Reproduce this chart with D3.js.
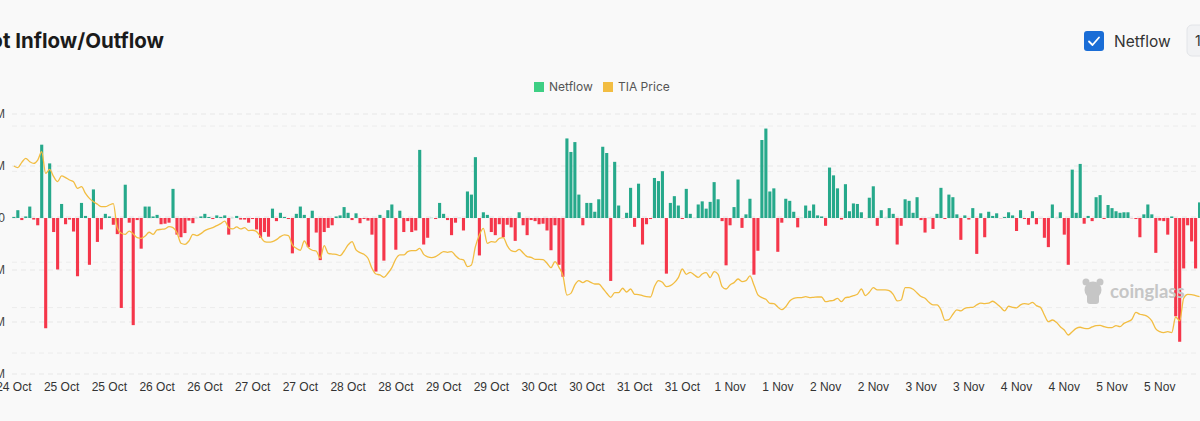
<!DOCTYPE html>
<html>
<head>
<meta charset="utf-8">
<script src="https://cdn.jsdelivr.net/npm/d3@7"></script>
<style>
  html, body { margin: 0; padding: 0; background: #f9f9f9; overflow: hidden; }
  svg { display: block; font-family: Inter, "Noto Sans", sans-serif; }
</style>
</head>
<body>
<svg width="1200" height="421"></svg>
<script>
// hourly samples, first one at 24 Oct 12:00
const startTime = new Date(2024, 9, 24, 12);

// netflow per hour, in millions
const netflow = [
  0.02, 0.15, -0.04, 0.03, 0.22, -0.03, -0.14, 1.41, -2.12, 1.05, -0.27, -0.99, 0.27, -0.12, -0.03, -0.26, -1.12, 0.29, 0.04, -0.9,
  0.55, -0.46, -0.22, 0.08, 0.03, -0.13, -0.31, -1.73, 0.64, -0.09, -2.06, -0.04, -0.59, 0.22, 0.22,
  0.03, 0.06, -0.12, -0.11, -0.09, 0.56, -0.32, -0.37, -0.29, -0.05, -0.10, 0.01, 0.03, 0.08, 0.02, -0.02, 0.05, 0.02, 0.05, -0.32,
  0.01, 0.04, -0.03, -0.03, -0.09, -0.02, -0.22, -0.38, -0.27, -0.36, 0.18, -0.06, 0.10, 0.02, -0.02, -0.68, 0.08, 0.22,
  0.06, -0.56, 0.14, -0.28, -0.81, -0.27, -0.19, -0.14, 0.03, 0.05, 0.21, 0.10, -0.04, 0.09, -0.10, -0.02, -0.05, -0.32, -1.03, 0.06,
  -0.82, 0.15, 0.26, -0.61, 0.14, -0.27, -0.06, -0.27, -0.24, 1.31, -0.51, -0.38, 0.01, -0.02, 0.29, 0.08, -0.04, -0.33,
  -0.09, 0.01, -0.24, 0.51, 0.45, 1.17, -0.72, 0.11, 0.06, -0.27, -0.33, -0.12, -0.37, -0.13, -0.18, -0.44, 0.11, -0.14, -0.33, -0.04,
  -0.06, -0.12, -0.11, -0.24, -0.62, -0.14, -0.90, -1.13, 1.53, 1.27, 1.46, 0.45, -0.14, 0.29, 0.29, 0.12, 0.36,
  1.37, 1.25, -1.21, 1.08, 0.24, -0.01, 0.10, 0.58, -0.17, 0.66, -0.51, -0.12, -0.02, 0.77, 0.71, 0.90, -1.07, 0.29, 0.42, 0.24,
  -0.02, 0.56, 0.08, 0.01, 0.26, 0.32, 0.18, 0.31, 0.69, 0.36, -0.06, -0.91, -0.14, 0.21, 0.74, -0.19, 0.07, 0.37,
  -1.09, -0.63, 1.50, 1.72, 0.51, 0.57, -0.65, -0.09, 0.37, 0.33, 0.12, -0.18, 0.01, 0.24, 0.14, 0.26, 0.05, 0.03, -0.15, 0.97,
  0.82, 0.57, -0.03, 0.65, 0.13, 0.28, 0.27, 0.11, -0.01, 0.39, 0.61, -0.15, 0.15, 0.01, 0.19, 0.08, -0.51, -0.15,
  0.36, 0.33, 0.10, 0.40, -0.04, -0.28, 0.01, -0.21, 0.08, 0.58, -0.02, 0.45, 0.40, 0.07, -0.42, 0.05, -0.03, 0.19, -0.69, 0.09,
  -0.37, 0.12, 0.04, 0.09, -0.01, 0.02, 0.11, 0.05, -0.25, 0.15, -0.02, -0.13, 0.13, -0.12, -0.01, -0.38, -0.56, 0.26,
  0.01, 0.11, -0.32, -0.90, 0.93, 0.10, 1.04, -0.11, 0.04, -0.06, 0.40, 0.44, -0.02, 0.25, 0.19, 0.13, 0.10, 0.11, 0.11, -0.01,
  -0.02, -0.37, 0.07, 0.26, 0.07, -0.67, -0.05, -0.06, -0.32, 0.03, -1.89, -2.38, -0.97, -0.14, -0.45, -0.97, 0.30
];

// TIA price per hour, USD
const price = [
  5.336, 5.325, 5.360, 5.386, 5.364, 5.353, 5.375, 5.430, 5.287, 5.314, 5.265, 5.232, 5.270, 5.259, 5.243, 5.232, 5.188, 5.199, 5.155, 5.122,
  5.100, 5.083, 5.067, 5.067, 5.078, 5.087, 4.924, 4.891, 4.884, 4.906, 4.887, 4.862, 4.858, 4.873, 4.898,
  4.884, 4.913, 4.917, 4.920, 4.935, 4.928, 4.895, 4.825, 4.818, 4.840, 4.884, 4.876, 4.889, 4.909, 4.920, 4.928, 4.942, 4.955, 4.972, 4.928,
  4.920, 4.933, 4.920, 4.928, 4.909, 4.911, 4.902, 4.869, 4.836, 4.832, 4.836, 4.849, 4.869, 4.880, 4.876, 4.814, 4.792, 4.779,
  4.840, 4.796, 4.779, 4.774, 4.726, 4.809, 4.759, 4.754, 4.752, 4.743, 4.774, 4.814, 4.836, 4.781, 4.763, 4.752, 4.726, 4.660, 4.622, 4.616,
  4.600, 4.627, 4.664, 4.721, 4.748, 4.748, 4.770, 4.776, 4.776, 4.792, 4.752, 4.735, 4.730, 4.737, 4.754, 4.770, 4.765, 4.770,
  4.743, 4.721, 4.715, 4.671, 4.682, 4.803, 4.880, 4.924, 4.825, 4.836, 4.832, 4.858, 4.862, 4.809, 4.776, 4.770, 4.785, 4.761, 4.737, 4.732,
  4.719, 4.719, 4.717, 4.693, 4.664, 4.704, 4.666, 4.611, 4.483, 4.494, 4.550, 4.578, 4.565, 4.578, 4.567, 4.556, 4.556,
  4.528, 4.495, 4.468, 4.499, 4.499, 4.528, 4.503, 4.523, 4.488, 4.486, 4.479, 4.473, 4.470, 4.539, 4.578, 4.567, 4.539, 4.545, 4.565, 4.598,
  4.655, 4.620, 4.633, 4.616, 4.600, 4.622, 4.631, 4.598, 4.638, 4.620, 4.539, 4.523, 4.550, 4.565, 4.589, 4.572, 4.578, 4.609,
  4.550, 4.484, 4.466, 4.455, 4.428, 4.426, 4.404, 4.387, 4.406, 4.444, 4.461, 4.466, 4.466, 4.472, 4.466, 4.468, 4.470, 4.470, 4.439, 4.444,
  4.448, 4.461, 4.439, 4.466, 4.470, 4.479, 4.488, 4.523, 4.479, 4.501, 4.532, 4.517, 4.517, 4.517, 4.512, 4.488, 4.444, 4.450,
  4.532, 4.532, 4.521, 4.497, 4.473, 4.462, 4.435, 4.418, 4.418, 4.385, 4.316, 4.321, 4.356, 4.385, 4.378, 4.395, 4.400, 4.402, 4.418, 4.429,
  4.426, 4.429, 4.442, 4.426, 4.402, 4.378, 4.409, 4.402, 4.398, 4.418, 4.426, 4.422, 4.435, 4.413, 4.402, 4.351, 4.307, 4.318,
  4.303, 4.274, 4.252, 4.219, 4.241, 4.263, 4.270, 4.263, 4.261, 4.272, 4.281, 4.283, 4.274, 4.268, 4.268, 4.281, 4.274, 4.296, 4.307, 4.323,
  4.369, 4.356, 4.351, 4.340, 4.312, 4.259, 4.241, 4.235, 4.241, 4.235, 4.338, 4.312, 4.462, 4.488, 4.486, 4.479, 4.473
];

const netflowTicks = [2, 1, 0, -1, -2, -3];
const priceTicks = [5.6, 5.3, 5.0, 4.7, 4.4, 4.1];

const GREEN = '#26a98b';
const RED = '#f5364a';
const GOLD = '#f2bd42';

const svg = d3.select('svg');
const hours = netflow.map((d, i) => d3.timeHour.offset(startTime, i));

const xScale = d3.scaleBand()
    .domain(d3.range(hours.length))
    .range([12.3, 12.3 + 3.976 * hours.length])
    .paddingInner(0.22);
const xMid = i => xScale(i) + xScale.bandwidth() / 2;

const yFlow = d3.scaleLinear().domain([-3, 2]).range([374, 114]);
const yPrice = d3.scaleLinear().domain([4.1, 5.6]).range([353, 126]);

// split lines of both axes
svg.append('g').selectAll('line').data(netflowTicks).join('line')
    .attr('x1', 12).attr('x2', 1200)
    .attr('y1', d => yFlow(d)).attr('y2', d => yFlow(d))
    .attr('stroke', '#e7e7e7').attr('stroke-dasharray', '5,4');
svg.append('g').selectAll('line').data(priceTicks).join('line')
    .attr('x1', 12).attr('x2', 1200)
    .attr('y1', d => yPrice(d)).attr('y2', d => yPrice(d))
    .attr('stroke', '#ececec').attr('stroke-dasharray', '5,4');

// left axis labels, mostly cut off by the crop like in the screenshot
const yAxis = d3.axisLeft(yFlow).tickValues(netflowTicks).tickSize(0).tickPadding(0)
    .tickFormat(d => d === 0 ? '0' : `${d}M`);
svg.append('g').attr('transform', 'translate(5,0)').call(yAxis)
    .call(g => g.select('.domain').remove())
    .call(g => g.selectAll('text').attr('fill', '#444').attr('font-size', 12));

// x axis
const xAxis = d3.axisBottom(xScale)
    .tickValues(d3.range(0, hours.length, 12))
    .tickSize(0).tickPadding(8)
    .tickFormat(i => d3.timeFormat('%-d %b')(hours[i]));
svg.append('g').attr('transform', 'translate(0,374)').call(xAxis)
    .call(g => g.select('.domain').remove())
    .call(g => g.selectAll('text').attr('fill', '#333').attr('font-size', 12));

// bars
svg.append('g').selectAll('rect').data(netflow).join('rect')
    .attr('x', (d, i) => xScale(i))
    .attr('width', xScale.bandwidth())
    .attr('y', d => yFlow(Math.max(0, d)))
    .attr('height', d => Math.max(0.8, Math.abs(yFlow(d) - yFlow(0))))
    .attr('fill', d => d >= 0 ? GREEN : RED)
    .attr('fill-opacity', d => Math.abs(d) < 0.015 ? 0.25 : 1);

// price line
const line = d3.line()
    .x((d, i) => xMid(i))
    .y(d => yPrice(d))
    .curve(d3.curveMonotoneX);
svg.append('path')
    .attr('d', line(price))
    .attr('fill', 'none')
    .attr('stroke', GOLD)
    .attr('stroke-width', 1.3);

// watermark
const wm = svg.append('g').attr('fill', '#c6c6c6');
wm.append('circle').attr('cx', 1093).attr('cy', 290).attr('r', 8.5);
wm.append('circle').attr('cx', 1086).attr('cy', 282).attr('r', 3.5);
wm.append('circle').attr('cx', 1100).attr('cy', 282).attr('r', 3.5);
wm.append('rect').attr('x', 1087).attr('y', 293).attr('width', 12).attr('height', 11).attr('rx', 3);
wm.append('text').attr('x', 1110).attr('y', 298)
    .attr('font-size', 18.5).attr('font-weight', 700)
    .attr('font-family', 'Lato, Inter, sans-serif')
    .text('coinglass');

// title
svg.append('text')
    .attr('x', 164).attr('y', 48)
    .attr('text-anchor', 'end')
    .attr('font-size', 20.5).attr('font-weight', 700)
    .attr('fill', '#1b1b1b')
    .text('TIA Spot Inflow/Outflow');

// legend
const legendItems = [{ label: 'Netflow', color: '#3ecf84', x: 534 }, { label: 'TIA Price', color: GOLD, x: 603 }];
const legend = svg.append('g').selectAll('g').data(legendItems).join('g')
    .attr('transform', d => `translate(${d.x},82)`);
legend.append('rect').attr('width', 10).attr('height', 10).attr('fill', d => d.color);
legend.append('text').attr('x', 15).attr('y', 9)
    .attr('font-size', 12).attr('fill', '#555')
    .text(d => d.label);

// checkbox and interval button
svg.append('rect').attr('x', 1084).attr('y', 31).attr('width', 20).attr('height', 20).attr('rx', 3)
    .attr('fill', '#1a6dd6');
svg.append('path').attr('d', 'M1089 41.5 L1092.5 45 L1099 37.5')
    .attr('fill', 'none').attr('stroke', '#fff').attr('stroke-width', 1.8)
    .attr('stroke-linecap', 'round').attr('stroke-linejoin', 'round');
svg.append('text').attr('x', 1114).attr('y', 47)
    .attr('font-size', 15.5).attr('fill', '#333')
    .text('Netflow');
svg.append('rect').attr('x', 1187).attr('y', 25).attr('width', 70).attr('height', 31).attr('rx', 5)
    .attr('fill', '#f1f2f4').attr('stroke', '#e2e4e8');
svg.append('text').attr('x', 1195).attr('y', 46)
    .attr('font-size', 14).attr('fill', '#333')
    .text('1 Hour');
</script>
</body>
</html>
